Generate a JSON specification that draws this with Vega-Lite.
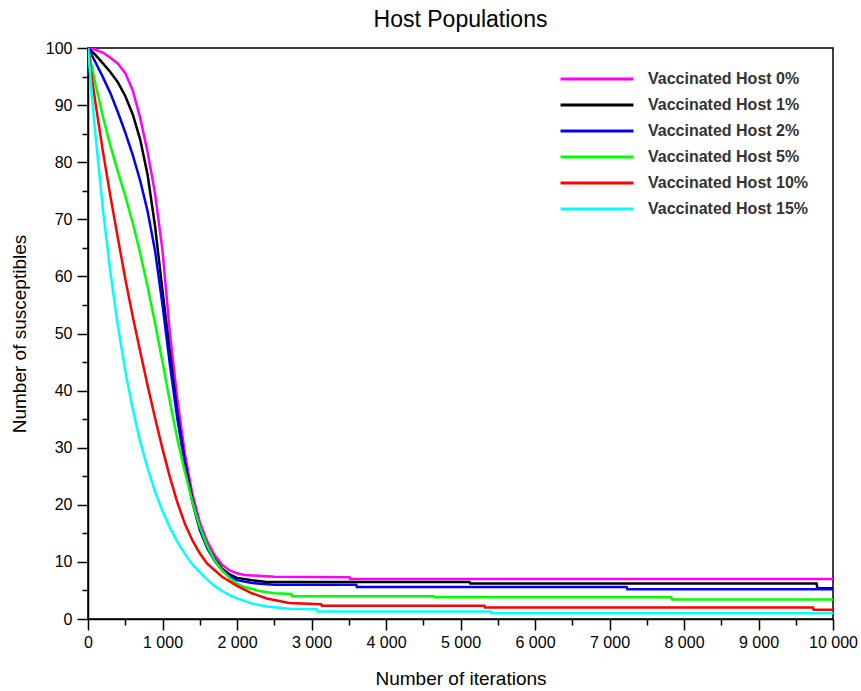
{
  "$schema": "https://vega.github.io/schema/vega-lite/v6.json",
  "width": 745,
  "height": 571,
  "autosize": {"type": "none"},
  "padding": {"left": 88, "top": 48, "right": 28, "bottom": 72},
  "background": "white",
  "title": {"text": "Host Populations", "font": "Liberation Sans", "fontSize": 23, "fontWeight": "normal", "color": "#000", "anchor": "middle", "baseline": "bottom", "offset": -15},
  "config": {"view": {"stroke": "#000", "strokeWidth": 1.5}},
  "data": {"values": [
    {"series": "Vaccinated Host 0%", "iteration": 0, "value": 100},
    {"series": "Vaccinated Host 0%", "iteration": 100, "value": 99.7},
    {"series": "Vaccinated Host 0%", "iteration": 200, "value": 99.2},
    {"series": "Vaccinated Host 0%", "iteration": 300, "value": 98.3},
    {"series": "Vaccinated Host 0%", "iteration": 400, "value": 97.3},
    {"series": "Vaccinated Host 0%", "iteration": 500, "value": 95.6},
    {"series": "Vaccinated Host 0%", "iteration": 600, "value": 92.6},
    {"series": "Vaccinated Host 0%", "iteration": 700, "value": 87.8},
    {"series": "Vaccinated Host 0%", "iteration": 800, "value": 81.8},
    {"series": "Vaccinated Host 0%", "iteration": 900, "value": 74.5},
    {"series": "Vaccinated Host 0%", "iteration": 1000, "value": 64.5},
    {"series": "Vaccinated Host 0%", "iteration": 1100, "value": 50},
    {"series": "Vaccinated Host 0%", "iteration": 1200, "value": 38.5},
    {"series": "Vaccinated Host 0%", "iteration": 1300, "value": 29},
    {"series": "Vaccinated Host 0%", "iteration": 1400, "value": 22},
    {"series": "Vaccinated Host 0%", "iteration": 1500, "value": 17},
    {"series": "Vaccinated Host 0%", "iteration": 1600, "value": 13.6},
    {"series": "Vaccinated Host 0%", "iteration": 1700, "value": 11.2},
    {"series": "Vaccinated Host 0%", "iteration": 1800, "value": 9.5},
    {"series": "Vaccinated Host 0%", "iteration": 1900, "value": 8.5},
    {"series": "Vaccinated Host 0%", "iteration": 2000, "value": 8.0},
    {"series": "Vaccinated Host 0%", "iteration": 2100, "value": 7.7},
    {"series": "Vaccinated Host 0%", "iteration": 2500, "value": 7.4},
    {"series": "Vaccinated Host 0%", "iteration": 3510, "value": 7.3},
    {"series": "Vaccinated Host 0%", "iteration": 3520, "value": 7.0},
    {"series": "Vaccinated Host 0%", "iteration": 10000, "value": 7.0},

    {"series": "Vaccinated Host 1%", "iteration": 0, "value": 100},
    {"series": "Vaccinated Host 1%", "iteration": 100, "value": 98.8},
    {"series": "Vaccinated Host 1%", "iteration": 200, "value": 97.3},
    {"series": "Vaccinated Host 1%", "iteration": 300, "value": 95.8},
    {"series": "Vaccinated Host 1%", "iteration": 400, "value": 94.0},
    {"series": "Vaccinated Host 1%", "iteration": 500, "value": 91.6},
    {"series": "Vaccinated Host 1%", "iteration": 600, "value": 88.4},
    {"series": "Vaccinated Host 1%", "iteration": 700, "value": 84},
    {"series": "Vaccinated Host 1%", "iteration": 800, "value": 77.8},
    {"series": "Vaccinated Host 1%", "iteration": 900, "value": 68.8},
    {"series": "Vaccinated Host 1%", "iteration": 1000, "value": 57.5},
    {"series": "Vaccinated Host 1%", "iteration": 1100, "value": 46.5},
    {"series": "Vaccinated Host 1%", "iteration": 1200, "value": 36},
    {"series": "Vaccinated Host 1%", "iteration": 1300, "value": 27.5},
    {"series": "Vaccinated Host 1%", "iteration": 1400, "value": 21},
    {"series": "Vaccinated Host 1%", "iteration": 1500, "value": 16.2},
    {"series": "Vaccinated Host 1%", "iteration": 1600, "value": 12.8},
    {"series": "Vaccinated Host 1%", "iteration": 1700, "value": 10.5},
    {"series": "Vaccinated Host 1%", "iteration": 1800, "value": 8.8},
    {"series": "Vaccinated Host 1%", "iteration": 1900, "value": 7.8},
    {"series": "Vaccinated Host 1%", "iteration": 2000, "value": 7.2},
    {"series": "Vaccinated Host 1%", "iteration": 2200, "value": 6.8},
    {"series": "Vaccinated Host 1%", "iteration": 2400, "value": 6.5},
    {"series": "Vaccinated Host 1%", "iteration": 5120, "value": 6.5},
    {"series": "Vaccinated Host 1%", "iteration": 5130, "value": 6.2},
    {"series": "Vaccinated Host 1%", "iteration": 9780, "value": 6.2},
    {"series": "Vaccinated Host 1%", "iteration": 9790, "value": 5.4},
    {"series": "Vaccinated Host 1%", "iteration": 10000, "value": 5.4},

    {"series": "Vaccinated Host 2%", "iteration": 0, "value": 100},
    {"series": "Vaccinated Host 2%", "iteration": 100, "value": 97.5},
    {"series": "Vaccinated Host 2%", "iteration": 200, "value": 94.9},
    {"series": "Vaccinated Host 2%", "iteration": 300, "value": 92.1},
    {"series": "Vaccinated Host 2%", "iteration": 400, "value": 88.8},
    {"series": "Vaccinated Host 2%", "iteration": 500, "value": 85.2},
    {"series": "Vaccinated Host 2%", "iteration": 600, "value": 81.3},
    {"series": "Vaccinated Host 2%", "iteration": 700, "value": 76.8},
    {"series": "Vaccinated Host 2%", "iteration": 800, "value": 71.4},
    {"series": "Vaccinated Host 2%", "iteration": 900, "value": 64.5},
    {"series": "Vaccinated Host 2%", "iteration": 1000, "value": 55},
    {"series": "Vaccinated Host 2%", "iteration": 1100, "value": 44.5},
    {"series": "Vaccinated Host 2%", "iteration": 1200, "value": 35},
    {"series": "Vaccinated Host 2%", "iteration": 1300, "value": 27},
    {"series": "Vaccinated Host 2%", "iteration": 1400, "value": 20.5},
    {"series": "Vaccinated Host 2%", "iteration": 1500, "value": 15.6},
    {"series": "Vaccinated Host 2%", "iteration": 1600, "value": 12.4},
    {"series": "Vaccinated Host 2%", "iteration": 1700, "value": 10.2},
    {"series": "Vaccinated Host 2%", "iteration": 1800, "value": 8.5},
    {"series": "Vaccinated Host 2%", "iteration": 1900, "value": 7.5},
    {"series": "Vaccinated Host 2%", "iteration": 2000, "value": 6.8},
    {"series": "Vaccinated Host 2%", "iteration": 2200, "value": 6.3},
    {"series": "Vaccinated Host 2%", "iteration": 2500, "value": 6.0},
    {"series": "Vaccinated Host 2%", "iteration": 3600, "value": 6.0},
    {"series": "Vaccinated Host 2%", "iteration": 3610, "value": 5.6},
    {"series": "Vaccinated Host 2%", "iteration": 7230, "value": 5.6},
    {"series": "Vaccinated Host 2%", "iteration": 7240, "value": 5.2},
    {"series": "Vaccinated Host 2%", "iteration": 10000, "value": 5.2},

    {"series": "Vaccinated Host 5%", "iteration": 0, "value": 100},
    {"series": "Vaccinated Host 5%", "iteration": 100, "value": 93.7},
    {"series": "Vaccinated Host 5%", "iteration": 200, "value": 88},
    {"series": "Vaccinated Host 5%", "iteration": 300, "value": 82.9},
    {"series": "Vaccinated Host 5%", "iteration": 400, "value": 78.4},
    {"series": "Vaccinated Host 5%", "iteration": 500, "value": 74.1},
    {"series": "Vaccinated Host 5%", "iteration": 600, "value": 69.4},
    {"series": "Vaccinated Host 5%", "iteration": 700, "value": 64.1},
    {"series": "Vaccinated Host 5%", "iteration": 800, "value": 58.2},
    {"series": "Vaccinated Host 5%", "iteration": 900, "value": 51.8},
    {"series": "Vaccinated Host 5%", "iteration": 1000, "value": 45},
    {"series": "Vaccinated Host 5%", "iteration": 1100, "value": 38},
    {"series": "Vaccinated Host 5%", "iteration": 1200, "value": 31.5},
    {"series": "Vaccinated Host 5%", "iteration": 1300, "value": 25.8},
    {"series": "Vaccinated Host 5%", "iteration": 1400, "value": 20.6},
    {"series": "Vaccinated Host 5%", "iteration": 1500, "value": 16.2},
    {"series": "Vaccinated Host 5%", "iteration": 1600, "value": 12.8},
    {"series": "Vaccinated Host 5%", "iteration": 1700, "value": 10.3},
    {"series": "Vaccinated Host 5%", "iteration": 1800, "value": 8.5},
    {"series": "Vaccinated Host 5%", "iteration": 1900, "value": 7.2},
    {"series": "Vaccinated Host 5%", "iteration": 2000, "value": 6.2},
    {"series": "Vaccinated Host 5%", "iteration": 2100, "value": 5.6},
    {"series": "Vaccinated Host 5%", "iteration": 2300, "value": 4.9},
    {"series": "Vaccinated Host 5%", "iteration": 2500, "value": 4.5},
    {"series": "Vaccinated Host 5%", "iteration": 2730, "value": 4.4},
    {"series": "Vaccinated Host 5%", "iteration": 2740, "value": 4.0},
    {"series": "Vaccinated Host 5%", "iteration": 4640, "value": 4.0},
    {"series": "Vaccinated Host 5%", "iteration": 4650, "value": 3.8},
    {"series": "Vaccinated Host 5%", "iteration": 7830, "value": 3.8},
    {"series": "Vaccinated Host 5%", "iteration": 7840, "value": 3.4},
    {"series": "Vaccinated Host 5%", "iteration": 10000, "value": 3.4},

    {"series": "Vaccinated Host 10%", "iteration": 0, "value": 100},
    {"series": "Vaccinated Host 10%", "iteration": 50, "value": 95},
    {"series": "Vaccinated Host 10%", "iteration": 100, "value": 90.4},
    {"series": "Vaccinated Host 10%", "iteration": 200, "value": 81.9},
    {"series": "Vaccinated Host 10%", "iteration": 300, "value": 74.1},
    {"series": "Vaccinated Host 10%", "iteration": 400, "value": 66.8},
    {"series": "Vaccinated Host 10%", "iteration": 500, "value": 59.6},
    {"series": "Vaccinated Host 10%", "iteration": 600, "value": 53.0},
    {"series": "Vaccinated Host 10%", "iteration": 700, "value": 46.9},
    {"series": "Vaccinated Host 10%", "iteration": 800, "value": 40.9},
    {"series": "Vaccinated Host 10%", "iteration": 900, "value": 35.2},
    {"series": "Vaccinated Host 10%", "iteration": 1000, "value": 29.8},
    {"series": "Vaccinated Host 10%", "iteration": 1100, "value": 24.8},
    {"series": "Vaccinated Host 10%", "iteration": 1200, "value": 20.4},
    {"series": "Vaccinated Host 10%", "iteration": 1300, "value": 16.7},
    {"series": "Vaccinated Host 10%", "iteration": 1400, "value": 13.8},
    {"series": "Vaccinated Host 10%", "iteration": 1500, "value": 11.5},
    {"series": "Vaccinated Host 10%", "iteration": 1600, "value": 9.7},
    {"series": "Vaccinated Host 10%", "iteration": 1800, "value": 7.4},
    {"series": "Vaccinated Host 10%", "iteration": 2000, "value": 5.8},
    {"series": "Vaccinated Host 10%", "iteration": 2200, "value": 4.5},
    {"series": "Vaccinated Host 10%", "iteration": 2400, "value": 3.6},
    {"series": "Vaccinated Host 10%", "iteration": 2700, "value": 2.8},
    {"series": "Vaccinated Host 10%", "iteration": 3130, "value": 2.6},
    {"series": "Vaccinated Host 10%", "iteration": 3140, "value": 2.3},
    {"series": "Vaccinated Host 10%", "iteration": 5320, "value": 2.3},
    {"series": "Vaccinated Host 10%", "iteration": 5330, "value": 2.0},
    {"series": "Vaccinated Host 10%", "iteration": 9730, "value": 2.0},
    {"series": "Vaccinated Host 10%", "iteration": 9740, "value": 1.6},
    {"series": "Vaccinated Host 10%", "iteration": 10000, "value": 1.6},

    {"series": "Vaccinated Host 15%", "iteration": 0, "value": 100},
    {"series": "Vaccinated Host 15%", "iteration": 50, "value": 92},
    {"series": "Vaccinated Host 15%", "iteration": 100, "value": 84.8},
    {"series": "Vaccinated Host 15%", "iteration": 200, "value": 71.8},
    {"series": "Vaccinated Host 15%", "iteration": 300, "value": 60.8},
    {"series": "Vaccinated Host 15%", "iteration": 400, "value": 51.4},
    {"series": "Vaccinated Host 15%", "iteration": 500, "value": 43.5},
    {"series": "Vaccinated Host 15%", "iteration": 600, "value": 36.8},
    {"series": "Vaccinated Host 15%", "iteration": 700, "value": 31.1},
    {"series": "Vaccinated Host 15%", "iteration": 800, "value": 26.4},
    {"series": "Vaccinated Host 15%", "iteration": 900, "value": 22.3},
    {"series": "Vaccinated Host 15%", "iteration": 1000, "value": 18.9},
    {"series": "Vaccinated Host 15%", "iteration": 1100, "value": 16.0},
    {"series": "Vaccinated Host 15%", "iteration": 1200, "value": 13.5},
    {"series": "Vaccinated Host 15%", "iteration": 1300, "value": 11.4},
    {"series": "Vaccinated Host 15%", "iteration": 1400, "value": 9.6},
    {"series": "Vaccinated Host 15%", "iteration": 1500, "value": 8.2},
    {"series": "Vaccinated Host 15%", "iteration": 1600, "value": 6.9},
    {"series": "Vaccinated Host 15%", "iteration": 1700, "value": 5.8},
    {"series": "Vaccinated Host 15%", "iteration": 1800, "value": 4.9},
    {"series": "Vaccinated Host 15%", "iteration": 1900, "value": 4.2},
    {"series": "Vaccinated Host 15%", "iteration": 2000, "value": 3.6},
    {"series": "Vaccinated Host 15%", "iteration": 2200, "value": 2.7},
    {"series": "Vaccinated Host 15%", "iteration": 2400, "value": 2.2},
    {"series": "Vaccinated Host 15%", "iteration": 2700, "value": 1.8},
    {"series": "Vaccinated Host 15%", "iteration": 3070, "value": 1.7},
    {"series": "Vaccinated Host 15%", "iteration": 3080, "value": 1.3},
    {"series": "Vaccinated Host 15%", "iteration": 5410, "value": 1.3},
    {"series": "Vaccinated Host 15%", "iteration": 5420, "value": 1.0},
    {"series": "Vaccinated Host 15%", "iteration": 10000, "value": 1.0}
  ]},
  "mark": {"type": "line", "strokeWidth": 2.5, "clip": true},
  "encoding": {
    "x": {
      "field": "iteration", "type": "quantitative",
      "scale": {"domain": [0, 10000], "nice": false},
      "axis": {
        "title": "Number of iterations",
        "values": [0,500,1000,1500,2000,2500,3000,3500,4000,4500,5000,5500,6000,6500,7000,7500,8000,8500,9000,9500,10000],
        "labelExpr": "datum.value % 1000 === 0 ? replace(format(datum.value, ','), ',', ' ') : ''",
        "tickSize": {"condition": {"test": "datum.value % 1000 === 0", "value": 11}, "value": 6},
        "grid": false, "domainColor": "#000", "domainWidth": 1.5, "tickColor": "#000", "tickWidth": 1.5,
        "labelFont": "Liberation Sans", "labelFontSize": 16, "labelColor": "#000", "labelPadding": 4,
        "labelFlush": false, "labelOverlap": false, "labelBound": false,
        "titleFont": "Liberation Sans", "titleFontSize": 19, "titleFontWeight": "normal", "titleColor": "#000", "titlePadding": 19
      }
    },
    "y": {
      "field": "value", "type": "quantitative",
      "scale": {"domain": [0, 100], "nice": false},
      "axis": {
        "title": "Number of susceptibles",
        "values": [0,5,10,15,20,25,30,35,40,45,50,55,60,65,70,75,80,85,90,95,100],
        "labelExpr": "datum.value % 10 === 0 ? datum.label : ''",
        "tickSize": {"condition": {"test": "datum.value % 10 === 0", "value": 11}, "value": 6},
        "grid": false, "domainColor": "#000", "domainWidth": 1.5, "tickColor": "#000", "tickWidth": 1.5,
        "labelFont": "Liberation Sans", "labelFontSize": 16, "labelColor": "#000", "labelPadding": 5,
        "labelFlush": false, "labelOverlap": false, "labelBound": false,
        "titleFont": "Liberation Sans", "titleFontSize": 19, "titleFontWeight": "normal", "titleColor": "#000", "titlePadding": 16
      }
    },
    "color": {
      "field": "series", "type": "nominal",
      "scale": {
        "domain": ["Vaccinated Host 0%", "Vaccinated Host 1%", "Vaccinated Host 2%", "Vaccinated Host 5%", "Vaccinated Host 10%", "Vaccinated Host 15%"],
        "range": ["#ff00ff", "#000000", "#0000ff", "#00ff00", "#ff0000", "#00ffff"]
      },
      "legend": {
        "orient": "none", "legendX": 500, "legendY": 22, "title": null, "padding": 0,
        "symbolType": "M-5,0H5", "symbolSize": 213, "symbolStrokeWidth": 3,
        "labelFont": "Liberation Sans", "labelFontSize": 16, "labelFontWeight": "bold", "labelColor": "#333",
        "labelOffset": 42, "rowPadding": 9, "labelLimit": 300
      }
    }
  }
}
